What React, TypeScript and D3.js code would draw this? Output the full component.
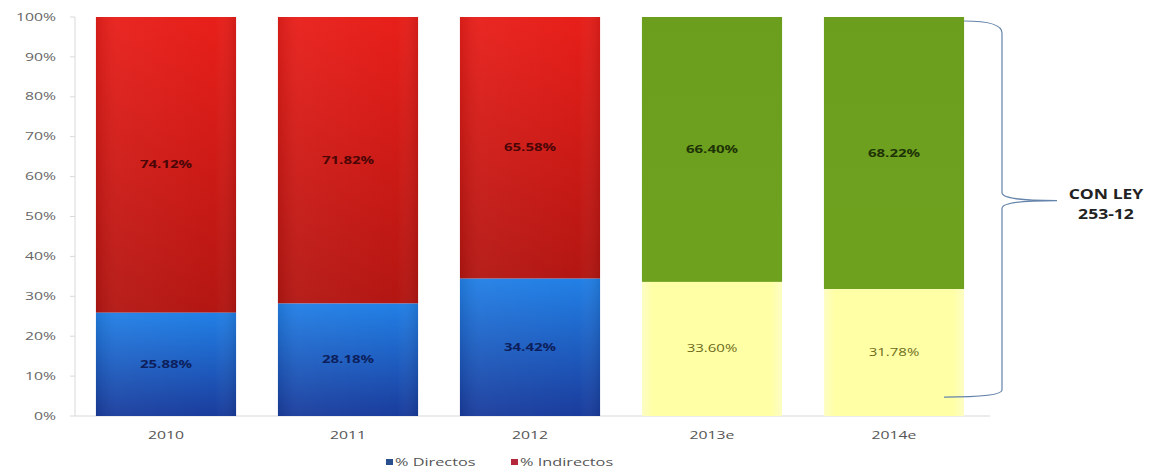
import React from "react";
import * as d3 from "d3";

const categories = ["2010", "2011", "2012", "2013e", "2014e"];
const directos = [25.88, 28.18, 34.42, 33.6, 31.78];
const indirectos = [74.12, 71.82, 65.58, 66.4, 68.22];
const projected = [false, false, false, true, true];
const yTicks = [0, 10, 20, 30, 40, 50, 60, 70, 80, 90, 100];
const legendItems = [
  { label: "% Directos", color: "#2a4f8f" },
  { label: "% Indirectos", color: "#b4263a" },
];
const braceLabel = ["CON LEY", "253-12"];

const W = 1151;
const H = 476;
const left = 75;
const right = 985;
const top = 17;
const bottom = 416;
const SX = 1.5;

function T(props: {
  x: number;
  y: number;
  anchor?: "start" | "middle" | "end";
  size: number;
  weight?: string;
  fill: string;
  sx?: number;
  children: React.ReactNode;
}) {
  const sx = props.sx ?? SX;
  return (
    <text
      transform={`translate(${props.x},${props.y}) scale(${sx},1)`}
      dy="0.35em"
      textAnchor={props.anchor ?? "middle"}
      fontSize={props.size}
      fontWeight={props.weight ?? "normal"}
      fill={props.fill}
      fontFamily="'Open Sans', 'Liberation Sans', sans-serif"
    >
      {props.children}
    </text>
  );
}

export default function App() {
  const x = d3.scaleBand<string>().domain(categories).range([left, right]).paddingInner(0.23).paddingOuter(0.115);
  const y = d3.scaleLinear().domain([0, 100]).range([bottom, top]);
  const bw = x.bandwidth();
  const fmt = (v: number) => v.toFixed(2) + "%";

  const braceX = 1002;
  const bMid = y(54);
  const bBot = y(5);
  const lastRight = (x(categories[4]) as number) + bw;
  const brace = [
    `M${lastRight},${y(99)}`,
    `C${braceX - 12},${y(99)} ${braceX},${y(98)} ${braceX},${y(96)}`,
    `L${braceX},${bMid - 8}`,
    `C${braceX},${bMid - 2} ${braceX + 20},${bMid} ${braceX + 55},${bMid}`,
    `M${braceX + 55},${bMid}`,
    `C${braceX + 20},${bMid} ${braceX},${bMid + 2} ${braceX},${bMid + 8}`,
    `L${braceX},${bBot - 6}`,
    `C${braceX},${bBot - 1} ${braceX - 20},${bBot + 1} ${lastRight - 20},${bBot + 1}`,
  ].join(" ");

  return (
    <svg width={W} height={H} style={{ position: "absolute", left: 0, top: 0, background: "#fff" }}>
      <defs>
        <linearGradient id="gRed" x1="0" y1="0" x2="0" y2="1">
          <stop offset="0" stopColor="#e81f1a" />
          <stop offset="1" stopColor="#b31612" />
        </linearGradient>
        <linearGradient id="gBlue" x1="0" y1="0" x2="0" y2="1">
          <stop offset="0" stopColor="#2280e6" />
          <stop offset="1" stopColor="#1a3c9c" />
        </linearGradient>
        <linearGradient id="gGreen" x1="0" y1="0" x2="0" y2="1">
          <stop offset="0" stopColor="#6c9e1e" />
          <stop offset="1" stopColor="#6ea21e" />
        </linearGradient>
        <linearGradient id="gYellow" x1="0" y1="0" x2="1" y2="0">
          <stop offset="0" stopColor="#fdfdc4" />
          <stop offset="0.08" stopColor="#ffffa6" />
          <stop offset="0.92" stopColor="#ffffa6" />
          <stop offset="1" stopColor="#fdfdc4" />
        </linearGradient>
        <linearGradient id="gSheen" x1="0" y1="0" x2="1" y2="0">
          <stop offset="0" stopColor="#000" stopOpacity="0.08" />
          <stop offset="0.15" stopColor="#fff" stopOpacity="0.04" />
          <stop offset="0.85" stopColor="#fff" stopOpacity="0.0" />
          <stop offset="1" stopColor="#000" stopOpacity="0.1" />
        </linearGradient>
      </defs>

      <line x1={left} x2={left} y1={top} y2={bottom} stroke="#d9d9d9" />
      <line x1={left} x2={990} y1={bottom} y2={bottom} stroke="#d9d9d9" />
      {yTicks.map((t) => (
        <g key={t}>
          <line x1={left - 5} x2={left} y1={y(t)} y2={y(t)} stroke="#d9d9d9" />
          <T x={56} y={y(t)} anchor="end" size={10.5} fill="#666">
            {t}%
          </T>
        </g>
      ))}

      {categories.map((c, i) => {
        const x0 = x(c) as number;
        const proj = projected[i];
        const yD = y(directos[i]);
        return (
          <g key={c}>
            <rect x={x0} y={y(100)} width={bw} height={yD - y(100)} fill={proj ? "url(#gGreen)" : "url(#gRed)"} />
            <rect x={x0} y={yD} width={bw} height={bottom - yD} fill={proj ? "url(#gYellow)" : "url(#gBlue)"} />
            {!proj && <rect x={x0} y={y(100)} width={bw} height={bottom - y(100)} fill="url(#gSheen)" />}
            <T x={x0 + bw / 2} y={(y(100) + yD) / 2} size={10} weight="bold" fill={proj ? "#1e3306" : "#4a0606"}>
              {fmt(indirectos[i])}
            </T>
            <T
              x={x0 + bw / 2}
              y={(yD + bottom) / 2}
              size={10}
              weight={proj ? "normal" : "bold"}
              fill={proj ? "#6b6a1a" : "#0c1f5c"}
            >
              {fmt(directos[i])}
            </T>
            <T x={x0 + bw / 2} y={435} size={10.5} fill="#555">
              {c}
            </T>
          </g>
        );
      })}

      <path d={brace} fill="none" stroke="#6584ab" strokeWidth={1.2} />
      {braceLabel.map((t, i) => (
        <T key={t} x={1106} y={194 + i * 20} size={13.5} weight="bold" fill="#222" sx={1.3}>
          {t}
        </T>
      ))}

      {legendItems.map((l, i) => {
        const lx = 386 + i * 125;
        return (
          <g key={l.label}>
            <rect x={lx} y={459} width={7} height={6} fill={l.color} />
            <T x={lx + 9} y={462} anchor="start" size={10.5} fill="#555" sx={1.55}>
              {l.label}
            </T>
          </g>
        );
      })}
    </svg>
  );
}
